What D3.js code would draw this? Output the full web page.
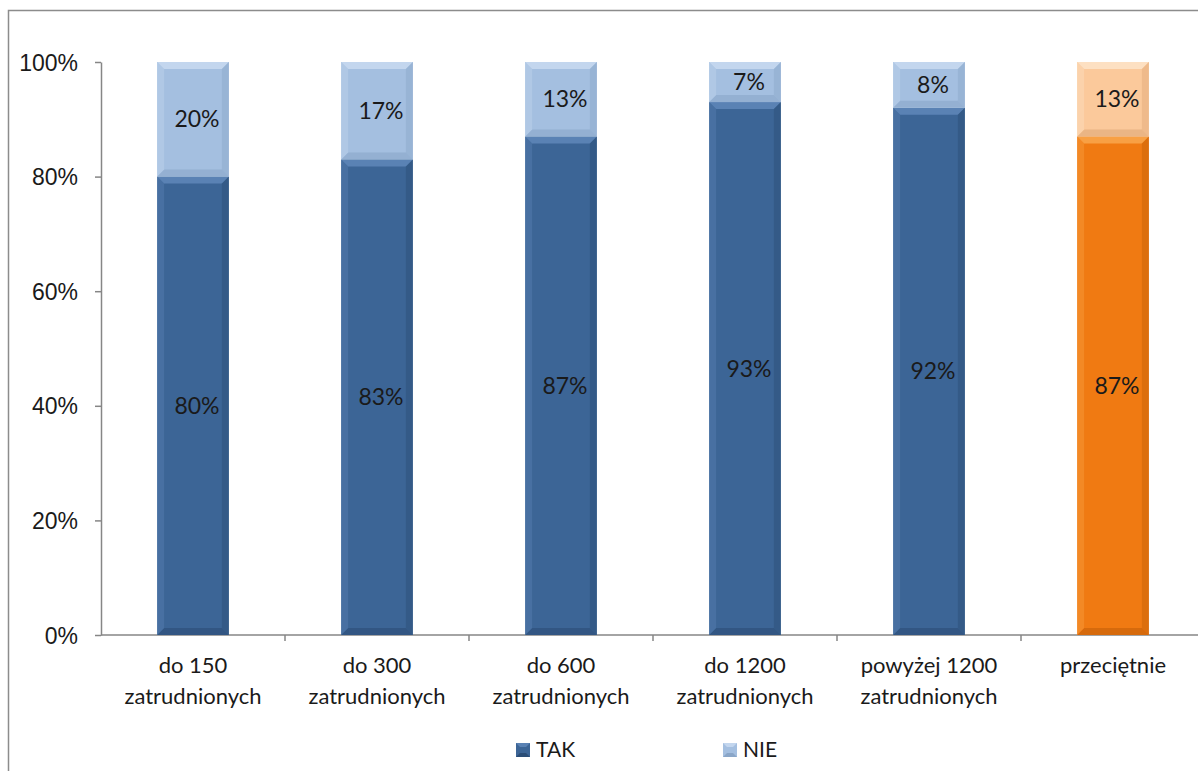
<!DOCTYPE html>
<html>
<head>
<meta charset="utf-8">
<script src="https://cdn.jsdelivr.net/npm/d3@7"></script>
<style>
  body { margin: 0; background: #fff; }
  svg { display: block; font-family: Lato, "Liberation Sans", sans-serif; }
</style>
</head>
<body>
<div id="chart"></div>
<script>
const categories = [
  ["do 150", "zatrudnionych"],
  ["do 300", "zatrudnionych"],
  ["do 600", "zatrudnionych"],
  ["do 1200", "zatrudnionych"],
  ["powyżej 1200", "zatrudnionych"],
  ["przeciętnie"]
];
const takValues = [80, 83, 87, 93, 92, 87];
const nieValues = [20, 17, 13, 7, 8, 13];
const yTicks = [0, 20, 40, 60, 80, 100];
const seriesNames = ["TAK", "NIE"];

const width = 1198, height = 771;
const margin = { left: 101, top: 62, bottom: 136 };
const plotBottom = height - margin.bottom;

const svg = d3.select("#chart").append("svg")
  .attr("width", width).attr("height", height);

// ramka wykresu
svg.append("path")
  .attr("d", `M8.5,${height} V10.5 H${width}`)
  .attr("fill", "none").attr("stroke", "#8c8c8c").attr("stroke-width", 1.5);

const x = d3.scaleBand()
  .domain(d3.range(categories.length))
  .range([margin.left, margin.left + 184 * categories.length])
  .paddingInner(0.61).paddingOuter(0.305);

const y = d3.scaleLinear().domain([0, 100]).range([plotBottom, margin.top]);

// oś Y
const yAxis = svg.append("g")
  .attr("transform", `translate(${margin.left},0)`)
  .call(d3.axisLeft(y).tickValues(yTicks).tickSize(6).tickSizeOuter(0).tickFormat(d => d + "%"));
yAxis.select(".domain").attr("stroke", "#868686").attr("stroke-width", 1.5);
yAxis.selectAll(".tick line").attr("stroke", "#868686").attr("stroke-width", 1.5);
yAxis.selectAll(".tick text").attr("x", -23).attr("dy", "0.35em")
  .style("font-size", "23px").attr("fill", "#1a1a1a");

// oś X
const step = x.step();
svg.append("line")
  .attr("x1", margin.left).attr("x2", width)
  .attr("y1", plotBottom).attr("y2", plotBottom)
  .attr("stroke", "#868686").attr("stroke-width", 1.5);
svg.selectAll("line.xtick")
  .data(d3.range(categories.length))
  .enter().append("line")
  .attr("class", "xtick")
  .attr("x1", i => margin.left + step * (i + 1))
  .attr("x2", i => margin.left + step * (i + 1))
  .attr("y1", plotBottom).attr("y2", plotBottom + 6)
  .attr("stroke", "#868686").attr("stroke-width", 1.5);

svg.selectAll("text.xlabel")
  .data(categories)
  .enter().append("text")
  .attr("class", "xlabel")
  .attr("text-anchor", "middle")
  .style("font-size", "22px").attr("fill", "#1a1a1a")
  .each(function (lines, i) {
    const t = d3.select(this);
    lines.forEach((ln, k) => {
      t.append("tspan")
        .attr("x", x(i) + x.bandwidth() / 2)
        .attr("y", plotBottom + 38 + k * 31)
        .text(ln);
    });
  });

// kolory
const palette = {
  TAK: { base: "#3c6596", light: "#5a82b4", dark: "#2b4d76" },
  NIE: { base: "#a4bfe0", light: "#c3d6ee", dark: "#8aa6c8" },
  TAKavg: { base: "#f07a12", light: "#f8a044", dark: "#c45f08" },
  NIEavg: { base: "#fbc99b", light: "#fde0c2", dark: "#dfa877" }
};

const segments = [];
takValues.forEach((v, i) => {
  const avg = i === categories.length - 1;
  segments.push({ i, y0: 0, y1: v, value: v, col: palette[avg ? "TAKavg" : "TAK"] });
  segments.push({ i, y0: v, y1: v + nieValues[i], value: nieValues[i], col: palette[avg ? "NIEavg" : "NIE"] });
});

const seg = svg.selectAll("g.seg")
  .data(segments)
  .enter().append("g").attr("class", "seg");

const bev = 7;
seg.each(function (d) {
  const g = d3.select(this);
  const x0 = x(d.i), x1 = x(d.i) + x.bandwidth();
  const top = y(d.y1), bot = y(d.y0);
  g.append("rect")
    .attr("x", x0).attr("y", top).attr("width", x1 - x0).attr("height", bot - top)
    .attr("fill", d.col.base);
  // skosy
  g.append("polygon").attr("fill", d.col.light)
    .attr("points", [[x0, top], [x1, top], [x1 - bev, top + bev], [x0 + bev, top + bev]].join(" "));
  g.append("polygon").attr("fill", d.col.dark).attr("opacity", 0.6)
    .attr("points", [[x0, bot], [x1, bot], [x1 - bev, bot - bev], [x0 + bev, bot - bev]].join(" "));
  g.append("polygon").attr("fill", d.col.light).attr("opacity", 0.4)
    .attr("points", [[x0, top], [x0 + bev, top + bev], [x0 + bev, bot - bev], [x0, bot]].join(" "));
  g.append("polygon").attr("fill", d.col.dark).attr("opacity", 0.45)
    .attr("points", [[x1, top], [x1 - bev, top + bev], [x1 - bev, bot - bev], [x1, bot]].join(" "));
  g.append("text")
    .attr("x", (x0 + x1) / 2 + 4)
    .attr("y", (top + bot) / 2)
    .attr("dy", "0.35em")
    .attr("text-anchor", "middle")
    .style("font-size", "23px").attr("fill", "#1a1a1a")
    .text(d.value + "%");
});

// legenda
const legendX = [516, 723];
const legend = svg.selectAll("g.legend")
  .data(seriesNames)
  .enter().append("g").attr("class", "legend")
  .attr("transform", (d, k) => `translate(${legendX[k]},743)`);
legend.append("rect").attr("width", 14).attr("height", 14)
  .attr("fill", d => palette[d].base);
legend.append("polygon").attr("fill", d => palette[d].light)
  .attr("points", "0,0 14,0 10,4 4,4");
legend.append("polygon").attr("fill", d => palette[d].dark)
  .attr("points", "0,14 14,14 10,10 4,10");
legend.append("text").attr("x", 20).attr("y", 14)
  .style("font-size", "21px").attr("fill", "#1a1a1a")
  .text(d => d);
</script>
</body>
</html>
